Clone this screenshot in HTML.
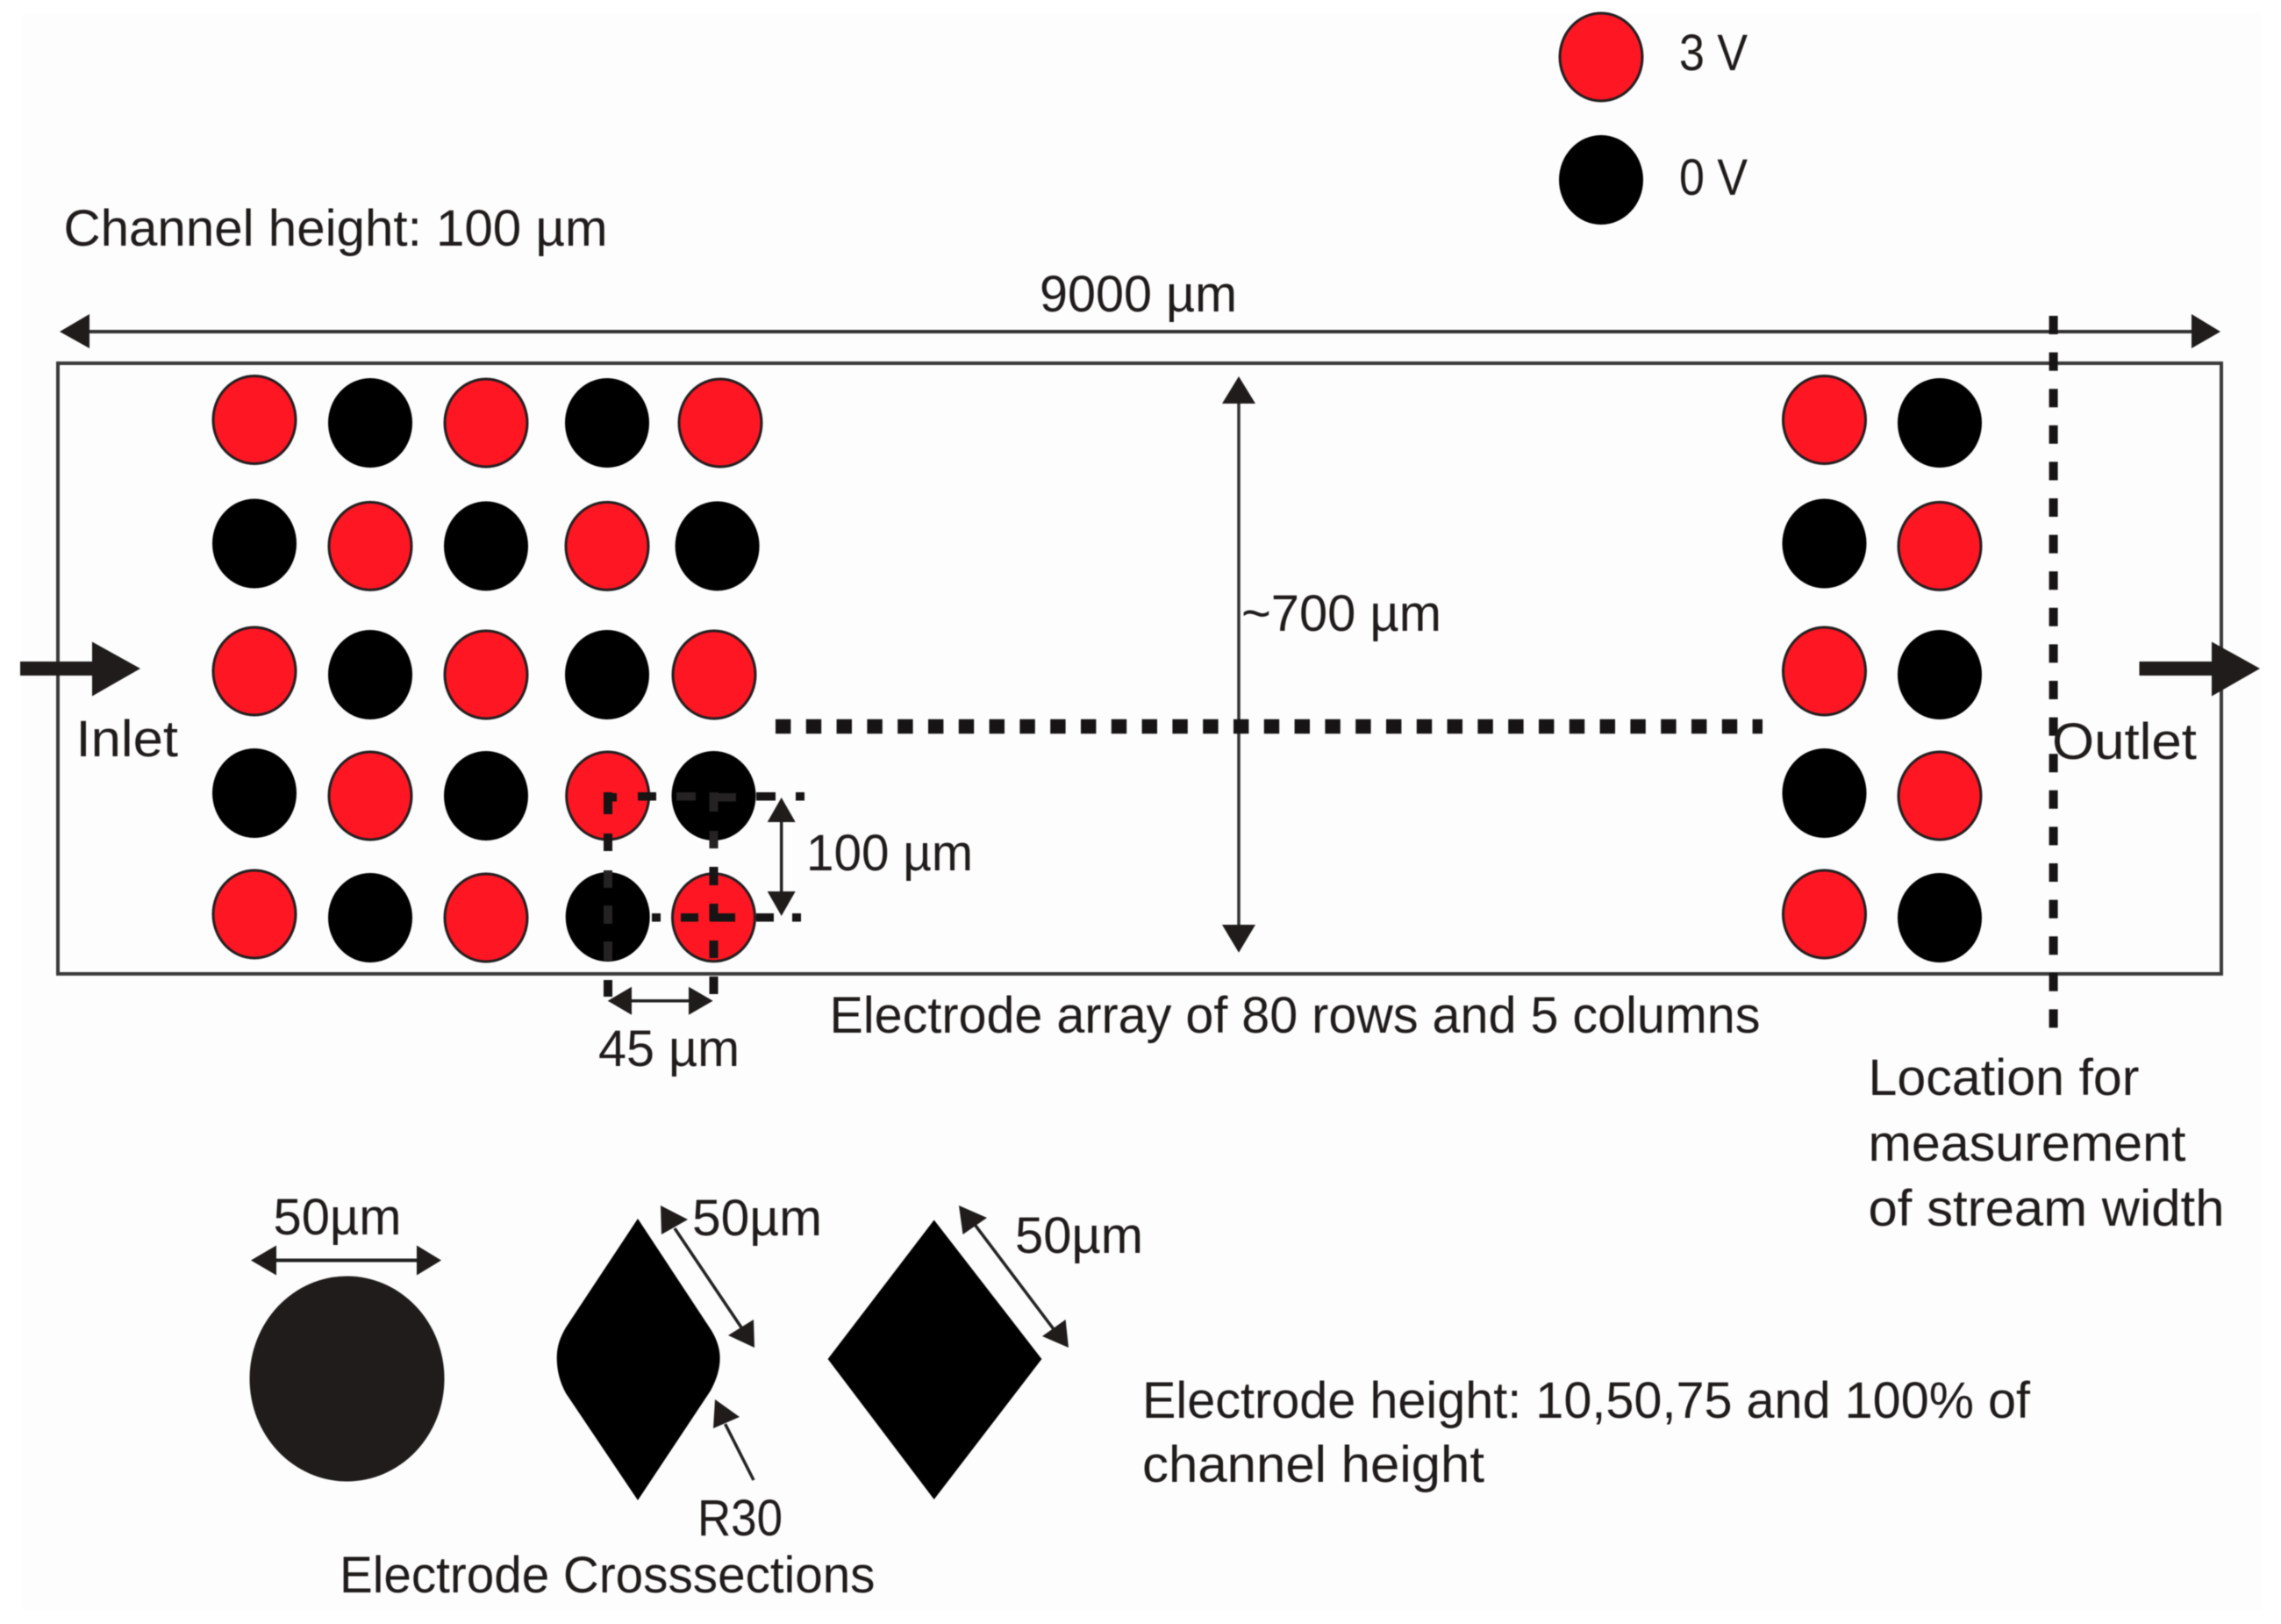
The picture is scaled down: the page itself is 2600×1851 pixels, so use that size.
<!DOCTYPE html>
<html>
<head>
<meta charset="utf-8">
<style>
html,body{margin:0;padding:0;background:#fff;width:2600px;height:1851px;overflow:hidden}
svg{display:block;filter:blur(0.6px)}
text{font-family:"Liberation Sans",sans-serif;font-size:58px;fill:#1f1c1b}
.r{fill:#fe1623;stroke:#231f20;stroke-width:3}
.k{fill:#000}
.h{fill:#1f1c1b}
.d{fill:#161414}
.ld{fill:#242222}
</style>
</head>
<body>
<svg width="2600" height="1851" viewBox="0 0 2600 1851" xmlns="http://www.w3.org/2000/svg">
<rect x="0" y="0" width="2600" height="1851" fill="#ffffff"/>
<rect x="25" y="15" width="2552" height="1820" fill="#fdfdfd"/>

<!-- channel box -->
<rect x="66" y="414" width="2466" height="696" fill="#fdfdfd" stroke="#3a3a3a" stroke-width="4"/>

<!-- 9000 arrow -->
<line x1="95" y1="378" x2="2505" y2="378" stroke="#333" stroke-width="4"/>
<polygon class="h" points="68,378 102,358 102,397"/>
<polygon class="h" points="2531,378 2498,358 2498,397"/>

<!-- legend -->
<ellipse class="r" cx="1825" cy="65" rx="47" ry="50"/>
<ellipse class="k" cx="1825" cy="205" rx="48" ry="51"/>

<!-- left array -->
<ellipse class="r" cx="290" cy="478.5" rx="47" ry="50"/>
<ellipse class="k" cx="422" cy="482" rx="48" ry="51"/>
<ellipse class="r" cx="554" cy="482" rx="47" ry="50"/>
<ellipse class="k" cx="692" cy="482" rx="48" ry="51"/>
<ellipse class="r" cx="821" cy="482" rx="47" ry="50"/>

<ellipse class="k" cx="290" cy="619.5" rx="48" ry="51"/>
<ellipse class="r" cx="422" cy="622.4" rx="47" ry="50"/>
<ellipse class="k" cx="554" cy="622.4" rx="48" ry="51"/>
<ellipse class="r" cx="692" cy="622.4" rx="47" ry="50"/>
<ellipse class="k" cx="817.6" cy="622.4" rx="48" ry="51"/>

<ellipse class="r" cx="290" cy="765" rx="47" ry="50"/>
<ellipse class="k" cx="422" cy="769" rx="48" ry="51"/>
<ellipse class="r" cx="554" cy="769" rx="47" ry="50"/>
<ellipse class="k" cx="692" cy="769" rx="48" ry="51"/>
<ellipse class="r" cx="814" cy="769" rx="47" ry="50"/>

<ellipse class="k" cx="290" cy="904" rx="48" ry="51"/>
<ellipse class="r" cx="422" cy="907" rx="47" ry="50"/>
<ellipse class="k" cx="554" cy="907" rx="48" ry="51"/>
<ellipse class="r" cx="692.7" cy="907" rx="47" ry="50"/>
<ellipse class="k" cx="813.5" cy="907" rx="48" ry="51"/>

<ellipse class="r" cx="290" cy="1042" rx="47" ry="50"/>
<ellipse class="k" cx="422" cy="1046" rx="48" ry="51"/>
<ellipse class="r" cx="554" cy="1046" rx="47" ry="50"/>
<ellipse class="k" cx="692.7" cy="1045" rx="48" ry="51"/>
<ellipse class="r" cx="813.5" cy="1045.7" rx="47" ry="50"/>

<!-- right array -->
<ellipse class="r" cx="2079.5" cy="478.5" rx="47" ry="50"/>
<ellipse class="k" cx="2211" cy="482" rx="48" ry="51"/>
<ellipse class="k" cx="2079.5" cy="619.5" rx="48" ry="51"/>
<ellipse class="r" cx="2211" cy="622.4" rx="47" ry="50"/>
<ellipse class="r" cx="2079.5" cy="765" rx="47" ry="50"/>
<ellipse class="k" cx="2211" cy="769" rx="48" ry="51"/>
<ellipse class="k" cx="2079.5" cy="904" rx="48" ry="51"/>
<ellipse class="r" cx="2211" cy="907" rx="47" ry="50"/>
<ellipse class="r" cx="2079.5" cy="1042" rx="47" ry="50"/>
<ellipse class="k" cx="2211" cy="1046" rx="48" ry="51"/>

<!-- inlet / outlet arrows -->
<rect class="h" x="23" y="754" width="84" height="16"/>
<polygon class="h" points="160,762 105,731.5 105,793.5"/>
<rect class="h" x="2438.5" y="754" width="84" height="16"/>
<polygon class="h" points="2576,762 2521,731.5 2521,793.5"/>

<!-- vertical 700 arrow -->
<line x1="1412" y1="450" x2="1412" y2="1065" stroke="#333" stroke-width="3.5"/>
<polygon class="h" points="1412,429 1393,460 1431,460"/>
<polygon class="h" points="1412,1085.7 1393,1054 1431,1054"/>

<!-- horizontal dotted -->
<line x1="884" y1="828" x2="2009" y2="828" stroke="#161414" stroke-width="16.5" stroke-dasharray="17.4 17.4"/>

<!-- measurement dashed -->
<line x1="2340.6" y1="360" x2="2340.6" y2="1172" stroke="#161414" stroke-width="10" stroke-dasharray="21 20.6"/>

<!-- small dashed square: verticals -->
<rect class="d" x="688" y="903" width="10" height="25"/>
<rect class="d" x="688" y="950" width="10" height="20"/>
<rect class="ld" x="688" y="992" width="10" height="20"/>
<rect class="ld" x="688" y="1032" width="10" height="21"/>
<rect class="ld" x="688" y="1073" width="10" height="22"/>
<rect class="d" x="688" y="1117" width="10" height="19"/>
<rect class="ld" x="808.5" y="903" width="10" height="22"/>
<rect class="ld" x="808.5" y="947" width="10" height="20"/>
<rect class="d" x="808.5" y="988" width="10" height="21"/>
<rect class="d" x="808.5" y="1030" width="10" height="20"/>
<rect class="d" x="808.5" y="1072" width="10" height="20"/>
<rect class="d" x="808.5" y="1113" width="10" height="20"/>
<!-- small dashed square: horizontals -->
<rect class="d" x="690" y="904" width="13" height="9.5"/>
<rect class="d" x="727" y="903" width="21" height="9.5"/>
<rect class="ld" x="771" y="903" width="22" height="9.5"/>
<rect class="ld" x="809" y="904" width="30" height="9.5"/>
<rect class="d" x="862" y="903" width="22" height="9.5"/>
<rect class="d" x="907" y="903" width="10" height="9.5"/>
<rect class="d" x="743" y="1041" width="10" height="9.5"/>
<rect class="d" x="776" y="1041" width="20" height="9.5"/>
<rect class="d" x="810" y="1041" width="28" height="9.5"/>
<rect class="d" x="862" y="1041" width="20" height="9.5"/>
<rect class="d" x="903" y="1041" width="10" height="9.5"/>

<!-- 100 um arrow -->
<line x1="890.7" y1="930" x2="890.7" y2="1025" stroke="#222" stroke-width="3.5"/>
<polygon class="h" points="890.7,909 874.7,937 906.7,937"/>
<polygon class="h" points="890.7,1044 874.7,1016 906.7,1016"/>

<!-- 45 um arrow -->
<line x1="710" y1="1140.7" x2="795" y2="1140.7" stroke="#222" stroke-width="3.5"/>
<polygon class="h" points="692.7,1140.7 720,1124.7 720,1156.7"/>
<polygon class="h" points="812.7,1140.7 785,1124.7 785,1156.7"/>

<!-- cross-sections -->
<ellipse cx="395.5" cy="1571.5" rx="111" ry="117" fill="#1f1c1b"/>
<line x1="300" y1="1436.5" x2="490" y2="1436.5" stroke="#222" stroke-width="4"/>
<polygon class="h" points="286,1436.5 315,1419.5 315,1453.5"/>
<polygon class="h" points="503,1436.5 475,1419.5 475,1453.5"/>

<path class="k" d="M727,1389 L810,1515 C817,1526 820.6,1537 820.6,1548 C820.6,1560 817,1572 810,1585 L727,1710 L645,1588 C638,1575 634.7,1562 634.7,1548 C634.7,1535 638,1525 645,1513 Z"/>
<line x1="769" y1="1400" x2="845" y2="1513" stroke="#222" stroke-width="3.5"/>
<polygon class="h" points="753,1374 754,1407 784,1390"/>
<polygon class="h" points="860,1536 859,1504 830,1522"/>

<polygon class="k" points="1064.7,1390.5 1187.4,1549 1064.7,1709 943.6,1549"/>
<line x1="1109" y1="1393" x2="1201" y2="1515" stroke="#222" stroke-width="3.5"/>
<polygon class="h" points="1093,1374 1097.5,1407 1125,1388"/>
<polygon class="h" points="1218,1536 1214.6,1504 1188,1523"/>

<line x1="826.6" y1="1623" x2="859" y2="1687" stroke="#222" stroke-width="3.5"/>
<polygon class="h" points="815,1595 813,1628 843,1615"/>

<!-- text -->
<text x="72.5" y="280" textLength="620" lengthAdjust="spacingAndGlyphs">Channel height: 100 µm</text>
<text x="1185" y="355" textLength="225" lengthAdjust="spacingAndGlyphs">9000 µm</text>
<text x="1914" y="80" textLength="78" lengthAdjust="spacingAndGlyphs">3 V</text>
<text x="1914" y="222" textLength="78" lengthAdjust="spacingAndGlyphs">0 V</text>
<text x="1415" y="719" textLength="228" lengthAdjust="spacingAndGlyphs">~700 µm</text>
<text x="86.5" y="862" textLength="116.5" lengthAdjust="spacingAndGlyphs">Inlet</text>
<text x="2339" y="865" textLength="165" lengthAdjust="spacingAndGlyphs">Outlet</text>
<text x="919" y="992" textLength="190" lengthAdjust="spacingAndGlyphs">100 µm</text>
<text x="945.5" y="1177" textLength="1061" lengthAdjust="spacingAndGlyphs">Electrode array of 80 rows and 5 columns</text>
<text x="682" y="1215" textLength="161" lengthAdjust="spacingAndGlyphs">45 µm</text>
<text x="2129.5" y="1248" textLength="309" lengthAdjust="spacingAndGlyphs">Location for</text>
<text x="2129.5" y="1323" textLength="362" lengthAdjust="spacingAndGlyphs">measurement</text>
<text x="2129.5" y="1397" textLength="406" lengthAdjust="spacingAndGlyphs">of stream width</text>
<text x="1302" y="1616" textLength="1012" lengthAdjust="spacingAndGlyphs">Electrode height: 10,50,75 and 100% of</text>
<text x="1302" y="1689" textLength="390" lengthAdjust="spacingAndGlyphs">channel height</text>
<text x="311.5" y="1407" textLength="146" lengthAdjust="spacingAndGlyphs">50µm</text>
<text x="789" y="1408" textLength="148" lengthAdjust="spacingAndGlyphs">50µm</text>
<text x="1157" y="1428" textLength="146" lengthAdjust="spacingAndGlyphs">50µm</text>
<text x="795" y="1750" textLength="97" lengthAdjust="spacingAndGlyphs">R30</text>
<text x="387" y="1815" textLength="610.5" lengthAdjust="spacingAndGlyphs">Electrode Crosssections</text>
</svg>
</body>
</html>
